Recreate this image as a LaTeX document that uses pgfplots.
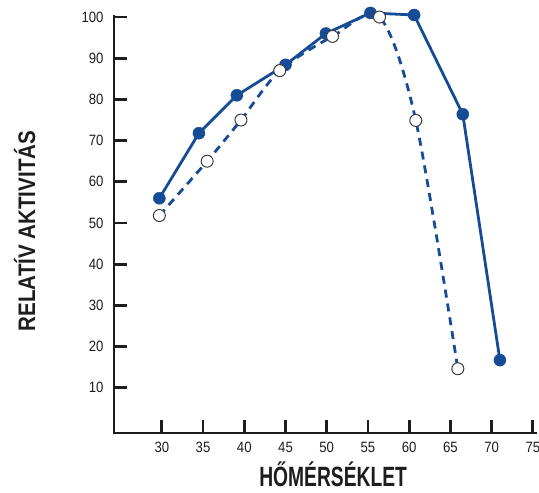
\documentclass[border=0pt]{standalone}
\usepackage{fontspec}
\setmainfont{Liberation Sans}
\newfontfamily\xlabfont[FakeStretch=0.69]{Liberation Sans}
\newfontfamily\ylabfont[FakeStretch=0.86]{Liberation Sans}
\newfontfamily\tickfont[FakeStretch=0.88]{Liberation Sans}
\usepackage{pgfplots}
\pgfplotsset{compat=1.18}
\definecolor{chartblue}{RGB}{22,76,150}
\definecolor{axisblack}{RGB}{30,28,28}
\definecolor{ringgray}{RGB}{60,60,60}

\begin{document}
\begin{tikzpicture}
\path[use as bounding box] (-114bp,-60bp) rectangle (425bp,433bp);
\begin{axis}[
  scale only axis,
  width=423bp, height=418bp,
  xmin=24.2, xmax=75.5,
  ymin=-1, ymax=100.5,
  axis lines*=left,
  axis line style={draw=axisblack},
  xtick={30,35,...,75},
  ytick={10,20,...,100},
  tick align=inside,
  major tick length=0pt,
  /pgf/number format/assume math mode=true,
  xticklabel={\tickfont\fontsize{15}{15}\selectfont\color{axisblack}\pgfmathprintnumber{\tick}},
  yticklabel={\tickfont\fontsize{15}{15}\selectfont\color{axisblack}\pgfmathprintnumber{\tick}},
  xticklabel style={yshift=-6bp},
  yticklabel style={xshift=-7bp},
  xlabel={HŐMÉRSÉKLET},
  xlabel style={at={(rel axis cs:0.518,-0.099)}, anchor=center,
    font=\xlabfont\bfseries\fontsize{28}{28}\selectfont, text=axisblack},
  ylabel={RELATÍV AKTIVITÁS},
  ylabel style={at={(rel axis cs:-0.211,0.483)}, anchor=center,
    font=\ylabfont\bfseries\fontsize{24}{24}\selectfont, text=axisblack},
  clip=false,
]
% tengelyvonalak es osztasok, kitoltott savokkal
\fill[axisblack] (rel axis cs:0,0) ++(-1.3pt,-1.3pt) rectangle ++(2.6pt,419.3bp);
\fill[axisblack] (rel axis cs:0,0) ++(-1.3pt,-1.3pt) rectangle ++(424.3bp,2.6pt);
\pgfplotsinvokeforeach{30,35,40,45,50,55,60,65,70,75}{
  \fill[axisblack] (axis cs:#1,-1) ++(-1.4pt,0pt) rectangle ++(2.8pt,13pt);
}
\pgfplotsinvokeforeach{10,20,30,40,50,60,70,80,90,100}{
  \fill[axisblack] (axis cs:24.2,#1) ++(0pt,-1.4pt) rectangle ++(13pt,2.8pt);
}
% optimum, folytonos vonal
\addplot[chartblue, line width=2.8bp, mark=*, mark size=6bp,
  mark options={fill=chartblue, draw=chartblue, line width=0.5bp}]
  coordinates {(29.7,56) (34.5,71.8) (39.1,81) (45,88.4) (49.9,96)
    (55.3,101) (60.6,100.5) (66.5,76.4) (71,16.7)};
% szaggatott vonal, nyitott karikak
\addplot[chartblue, line width=2.8bp, dash pattern=on 8bp off 6bp,
  smooth, tension=0.5, mark=*, mark size=6bp,
  mark options={solid, fill=white, draw=ringgray, line width=1bp}]
  coordinates {(29.7,51.8) (35.5,65) (39.6,75) (44.3,87) (50.7,95.3)
    (56.4,100) (60.8,74.9) (65.9,14.6)};
\end{axis}
\end{tikzpicture}
\end{document}
